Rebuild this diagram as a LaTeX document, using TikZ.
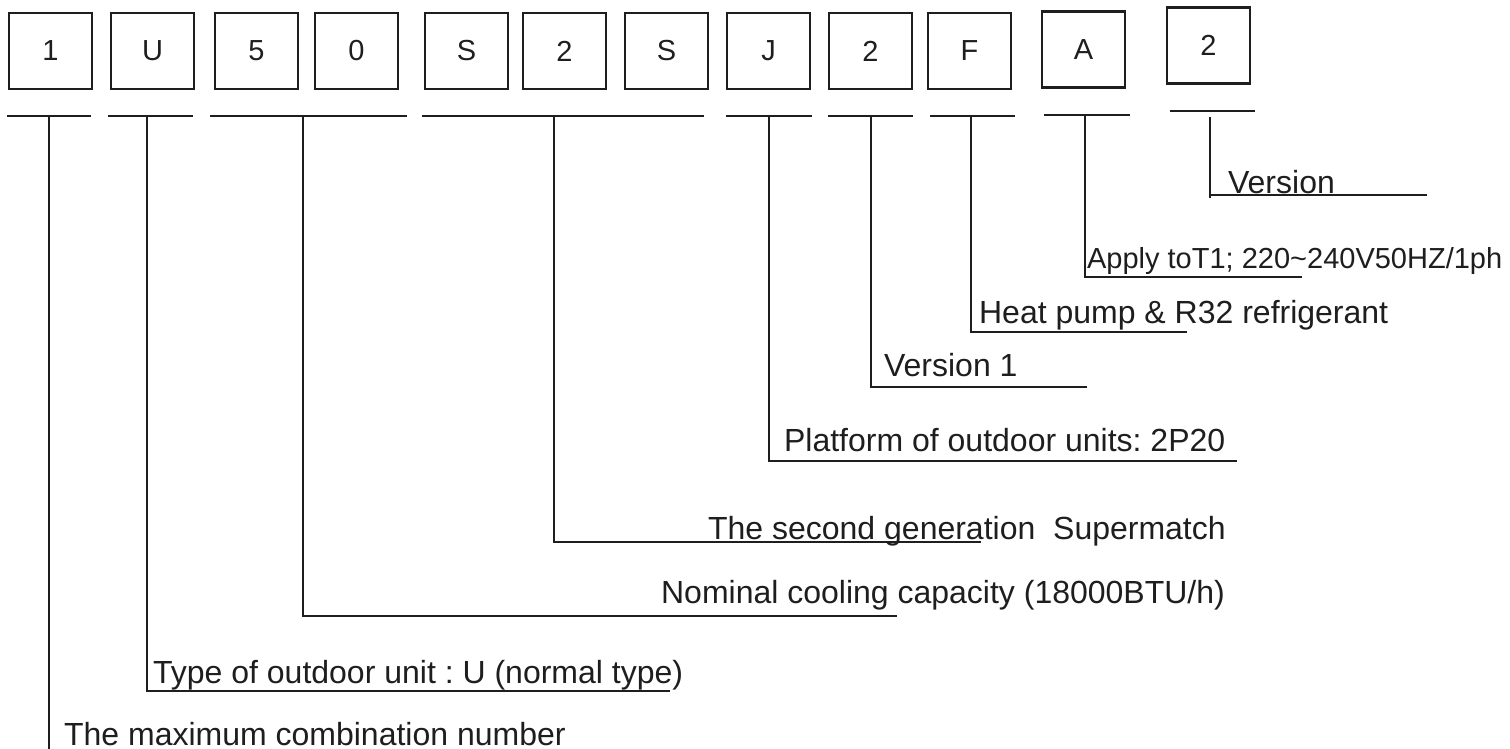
\documentclass[tikz,border=0pt]{standalone}
\usepackage{fontspec}
\setmainfont{Liberation Sans}
\definecolor{ink}{HTML}{1E1E1E}
\frenchspacing
\begin{document}
\begin{tikzpicture}[x=0.5pt,y=-0.5pt, line width=1.1pt, draw=ink, text=ink,
  digitbox/.style={draw=ink, line width=1.1pt, minimum width=41.5pt, minimum height=38pt, inner sep=0pt, font=\fontsize{14.5}{17}\selectfont},
  lbl/.style={anchor=base west, inner sep=0pt, font=\fontsize{16}{19}\selectfont},
  smalllbl/.style={anchor=base west, inner sep=0pt, font=\fontsize{14.5}{17}\selectfont},
  rule/.style={draw=ink, line width=1.1pt}]
\useasboundingbox (0,0) rectangle (1510,749);

% code boxes
\node[digitbox] (b1)  at (50.5,51)   {1};
\node[digitbox] (b2)  at (152.5,51)  {U};
\node[digitbox] (b3)  at (256.5,51)  {5};
\node[digitbox] (b4)  at (356.5,51)  {0};
\node[digitbox] (b5)  at (466.5,51)  {S};
\node[digitbox] (b6)  at (564.5,51)  {2};
\node[digitbox] (b7)  at (666.5,51)  {S};
\node[digitbox] (b8)  at (768.5,51)  {J};
\node[digitbox] (b9)  at (870.5,51)  {2};
\node[digitbox] (b10) at (969.5,51)  {F};
\node[digitbox] (b11) at (1083.5,49.5) {A};
\node[digitbox] (b12) at (1208.5,45.5) {2};

% underline groups
\coordinate (u1a) at (7,116);    \coordinate (u1b) at (91,116);   \coordinate (v1) at (49,116);
\coordinate (u2a) at (108,116);  \coordinate (u2b) at (193,116);  \coordinate (v2) at (147,116);
\coordinate (u3a) at (210,116);  \coordinate (u3b) at (407,116);  \coordinate (v3) at (303,116);
\coordinate (u4a) at (422,116);  \coordinate (u4b) at (704,116);  \coordinate (v4) at (554,116);
\coordinate (u5a) at (726,116);  \coordinate (u5b) at (812,116);  \coordinate (v5) at (769,116);
\coordinate (u6a) at (828,116);  \coordinate (u6b) at (913,116);  \coordinate (v6) at (871,116);
\coordinate (u7a) at (930,116);  \coordinate (u7b) at (1015,116); \coordinate (v7) at (971,116);
\coordinate (u8a) at (1044,115); \coordinate (u8b) at (1130,115); \coordinate (v8) at (1085,115);
\coordinate (u9a) at (1170,111); \coordinate (u9b) at (1255,111); \coordinate (v9) at (1210,117);

\foreach \i in {1,...,9} \draw[rule] (u\i a) -- (u\i b);

% labels
\node[lbl]      (l9) at (1227,193) {Version};
\node[smalllbl] (l8) at (1086,268) {Apply toT1; 220\textasciitilde240V50HZ/1ph};
\node[lbl]      (l7) at (978,323)  {Heat pump \& R32 refrigerant};
\node[lbl]      (l6) at (883,376)  {Version 1};
\node[lbl]      (l5) at (783,451)  {Platform of outdoor units: 2P20};
\node[lbl]      (l4) at (707,539)  {The second generation\ \ Supermatch};
\node[lbl]      (l3) at (660,603)  {Nominal cooling capacity (18000BTU/h)};
\node[lbl]      (l2) at (152,683)  {Type of outdoor unit : U (normal type)};
\node[lbl]      (l1) at (63,745)   {The maximum combination number};

% leader end points
\coordinate (e9) at (1427,195);
\coordinate (e8) at (1302,277);
\coordinate (e7) at (1187,332);
\coordinate (e6) at (1087,387);
\coordinate (e5) at (1237,461);
\coordinate (e4) at (981,542);
\coordinate (e3) at (897,616);
\coordinate (e2) at (670,691);
\coordinate (e1) at (49,749);

\draw[rule] (v9) -- (1210,198);
\draw[rule] (1210,195) -- (e9);
\draw[rule] (v8) |- (e8);
\draw[rule] (v7) |- (e7);
\draw[rule] (v6) |- (e6);
\draw[rule] (v5) |- (e5);
\draw[rule] (v4) |- (e4);
\draw[rule] (v3) |- (e3);
\draw[rule] (v2) |- (e2);
\draw[rule] (v1) -- (e1);
\end{tikzpicture}
\end{document}
